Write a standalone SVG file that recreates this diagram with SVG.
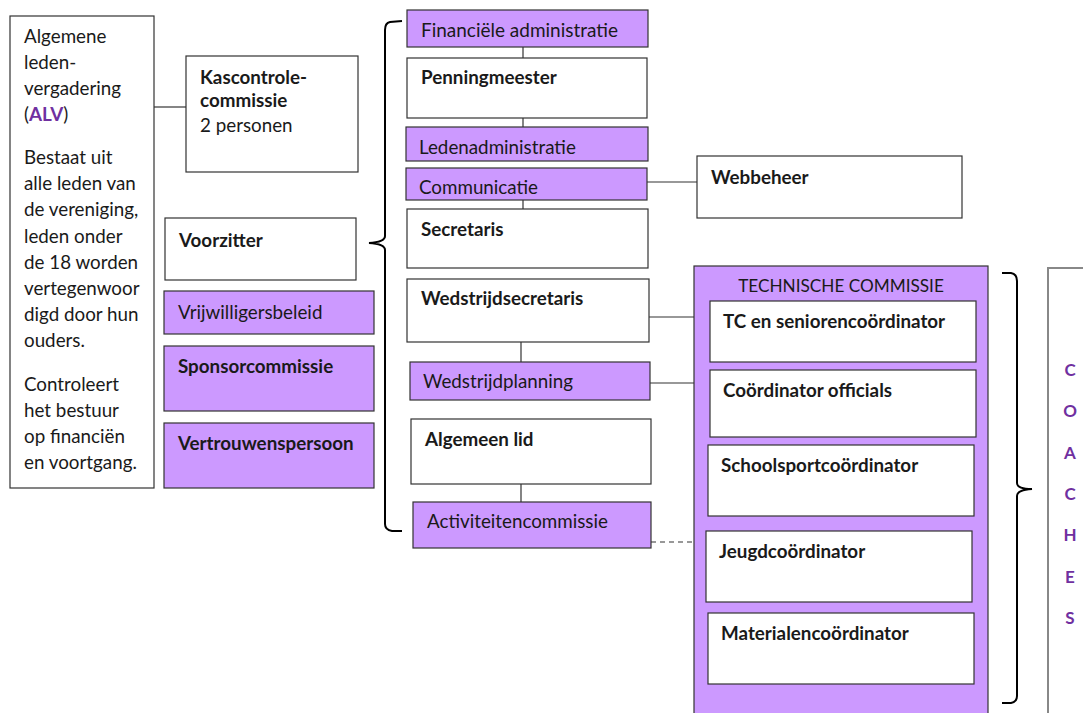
<svg xmlns="http://www.w3.org/2000/svg" width="1083" height="713" viewBox="0 0 1083 713">
<style>
  text { font-family: Lato, "Liberation Sans", sans-serif; font-size: 18.8px; fill: #1a1a1a; }
  .b { font-weight: bold; }
  .box { fill: #ffffff; stroke: #333333; stroke-width: 1.2; }
  .pbox { fill: #CC99FF; stroke: #333333; stroke-width: 1.2; }
  .ln { stroke: #333333; stroke-width: 1.2; fill: none; }
  .brace { stroke: #000000; stroke-width: 2; fill: none; }
  .coach { fill: #7030A0; font-weight: bold; font-size: 17px; text-anchor: middle; }
</style>
<rect x="0" y="0" width="1083" height="713" fill="#ffffff"/>

<g id="connectors">
  <line class="ln" x1="154" y1="107" x2="186" y2="107"/>
  <line class="ln" x1="523" y1="47" x2="523" y2="58"/>
  <line class="ln" x1="523" y1="118" x2="523" y2="127"/>
  <line class="ln" x1="523" y1="200" x2="523" y2="209"/>
  <line class="ln" x1="521" y1="342" x2="521" y2="362"/>
  <line class="ln" x1="521" y1="484" x2="521" y2="502"/>
  <line class="ln" x1="647" y1="182" x2="697" y2="182"/>
  <line class="ln" x1="649" y1="317" x2="710" y2="317"/>
  <line class="ln" x1="650" y1="383" x2="710" y2="383"/>
  <line class="ln" x1="651" y1="542" x2="706" y2="542" stroke-dasharray="5,4"/>
  <path class="brace" d="M402,21 L390,22 Q385,23 385,30 L385,236 Q385,242 369,243 Q385,244 385,250 L385,524 Q385,530 392,531 L402,531"/>
  <path class="brace" d="M1002,273 L1011,273 Q1017,274 1017,281 L1017,483 Q1017,489 1032,489 Q1017,490 1017,496 L1017,696 Q1017,702 1011,703 L1002,703"/>
</g>

<g id="alv">
  <rect class="box" x="10" y="16" width="144" height="472"/>
  <text x="24" y="43">Algemene</text>
  <text x="24" y="69">leden-</text>
  <text x="24" y="95">vergadering</text>
  <text x="24" y="121">(<tspan class="b" fill="#7030A0">ALV</tspan>)</text>
  <text x="24" y="164">Bestaat uit</text>
  <text x="24" y="190">alle leden van</text>
  <text x="24" y="216">de vereniging,</text>
  <text x="24" y="243">leden onder</text>
  <text x="24" y="269">de 18 worden</text>
  <text x="24" y="295">vertegenwoor</text>
  <text x="24" y="321">digd door hun</text>
  <text x="24" y="347">ouders.</text>
  <text x="24" y="391">Controleert</text>
  <text x="24" y="417">het bestuur</text>
  <text x="24" y="443">op financiën</text>
  <text x="24" y="469">en voortgang.</text>
</g>

<g id="kascontrole">
  <rect class="box" x="186" y="56" width="172" height="116"/>
  <text class="b" x="200" y="84">Kascontrole-</text>
  <text class="b" x="200" y="107">commissie</text>
  <text x="200" y="132">2 personen</text>
</g>

<g id="voorzitter">
  <rect class="box" x="165" y="218" width="191" height="62"/>
  <text class="b" x="179" y="247">Voorzitter</text>
</g>
<g id="vrijwilligersbeleid">
  <rect class="pbox" x="164" y="291" width="210" height="43"/>
  <text x="178" y="319">Vrijwilligersbeleid</text>
</g>
<g id="sponsorcommissie">
  <rect class="pbox" x="164" y="346" width="210" height="65"/>
  <text class="b" x="178" y="373">Sponsorcommissie</text>
</g>
<g id="vertrouwenspersoon">
  <rect class="pbox" x="164" y="423" width="210" height="65"/>
  <text class="b" x="178" y="450">Vertrouwenspersoon</text>
</g>

<g id="financiele-administratie">
  <rect class="pbox" x="407" y="10" width="241" height="37"/>
  <text x="421" y="37" textLength="197" lengthAdjust="spacingAndGlyphs">Financiële administratie</text>
</g>
<g id="penningmeester">
  <rect class="box" x="407" y="58" width="240" height="60"/>
  <text class="b" x="421" y="84">Penningmeester</text>
</g>
<g id="ledenadministratie">
  <rect class="pbox" x="406" y="127" width="242" height="34"/>
  <text x="419" y="154">Ledenadministratie</text>
</g>
<g id="communicatie">
  <rect class="pbox" x="406" y="168" width="241" height="32"/>
  <text x="419" y="194">Communicatie</text>
</g>
<g id="secretaris">
  <rect class="box" x="407" y="209" width="241" height="59"/>
  <text class="b" x="421" y="236">Secretaris</text>
</g>
<g id="wedstrijdsecretaris">
  <rect class="box" x="407" y="279" width="242" height="63"/>
  <text class="b" x="421" y="305">Wedstrijdsecretaris</text>
</g>
<g id="wedstrijdplanning">
  <rect class="pbox" x="410" y="362" width="240" height="38"/>
  <text x="423" y="388">Wedstrijdplanning</text>
</g>
<g id="algemeen-lid">
  <rect class="box" x="411" y="419" width="240" height="65"/>
  <text class="b" x="425" y="446">Algemeen lid</text>
</g>
<g id="activiteitencommissie">
  <rect class="pbox" x="413" y="502" width="238" height="46"/>
  <text x="427" y="528">Activiteitencommissie</text>
</g>

<g id="webbeheer">
  <rect class="box" x="697" y="156" width="265" height="62"/>
  <text class="b" x="711" y="184">Webbeheer</text>
</g>

<g id="technische-commissie">
  <rect class="pbox" x="694" y="266" width="294" height="460"/>
  <text x="841" y="292" text-anchor="middle" style="font-size:17.2px">TECHNISCHE COMMISSIE</text>
</g>
<g id="tc-senioren">
  <rect class="box" x="710" y="301" width="266" height="61"/>
  <text class="b" x="723" y="328">TC en seniorencoördinator</text>
</g>
<g id="coordinator-officials">
  <rect class="box" x="710" y="370" width="266" height="67"/>
  <text class="b" x="723" y="397">Coördinator officials</text>
</g>
<g id="schoolsport">
  <rect class="box" x="708" y="445" width="266" height="71"/>
  <text class="b" x="721" y="472">Schoolsportcoördinator</text>
</g>
<g id="jeugd">
  <rect class="box" x="706" y="531" width="266" height="71"/>
  <text class="b" x="719" y="558">Jeugdcoördinator</text>
</g>
<g id="materialen">
  <rect class="box" x="708" y="613" width="266" height="71"/>
  <text class="b" x="721" y="640">Materialencoördinator</text>
</g>

<g id="coaches">
  <rect x="1048" y="268" width="60" height="460" fill="#ffffff" stroke="#888888" stroke-width="2"/>
  <text class="coach" x="1070" y="376">C</text>
  <text class="coach" x="1070" y="417">O</text>
  <text class="coach" x="1070" y="459">A</text>
  <text class="coach" x="1070" y="500">C</text>
  <text class="coach" x="1070" y="541">H</text>
  <text class="coach" x="1070" y="583">E</text>
  <text class="coach" x="1070" y="624">S</text>
</g>
</svg>
